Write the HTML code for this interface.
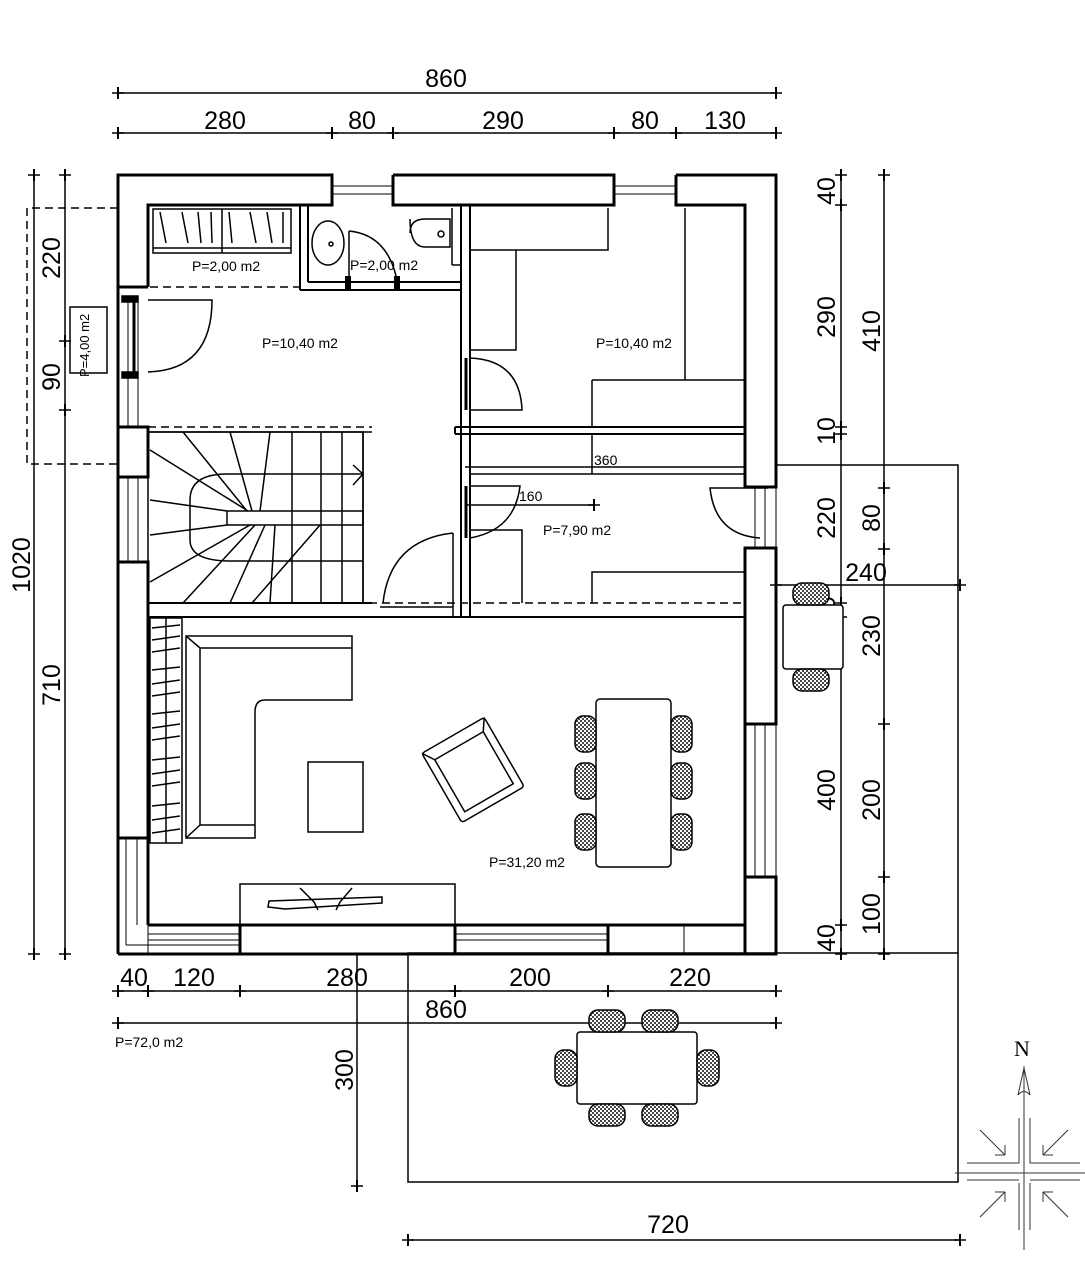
<!DOCTYPE html>
<html><head><meta charset="utf-8"><style>
html,body{margin:0;padding:0;background:#fff}
svg{display:block}
text{font-family:"Liberation Sans",sans-serif;fill:#000}
.d{font-size:25px}
.s{font-size:14px}
</style></head><body>
<svg width="1085" height="1288" viewBox="0 0 1085 1288" xmlns="http://www.w3.org/2000/svg" fill="none" stroke="#000">
<defs>
<pattern id="ck" width="4" height="4" patternUnits="userSpaceOnUse"><rect width="4" height="4" fill="#fff" stroke="none"/><rect width="2" height="2" fill="#444" stroke="none"/><rect x="2" y="2" width="2" height="2" fill="#444" stroke="none"/></pattern>
<g id="tk"><line x1="-6" y1="0" x2="6" y2="0" stroke-width="1.5"/><line x1="0" y1="-6" x2="0" y2="6" stroke-width="2"/></g>
</defs>

<g stroke-width="1.5">
<line x1="118" y1="93" x2="776" y2="93"/>
<line x1="118" y1="133" x2="776" y2="133"/>
<line x1="34" y1="173" x2="34" y2="954"/>
<line x1="65" y1="173" x2="65" y2="954"/>
<line x1="841" y1="175" x2="841" y2="954"/>
<line x1="884" y1="175" x2="884" y2="954"/>
<line x1="118" y1="991" x2="776" y2="991"/>
<line x1="118" y1="1023" x2="776" y2="1023"/>
<line x1="357" y1="954" x2="357" y2="1186"/>
<line x1="408" y1="1240" x2="960" y2="1240"/>
<line x1="776" y1="585" x2="960" y2="585"/>
</g>
<g>
<use href="#tk" x="118" y="93"/><use href="#tk" x="776" y="93"/>
<use href="#tk" x="118" y="133"/><use href="#tk" x="332" y="133"/><use href="#tk" x="393" y="133"/><use href="#tk" x="614" y="133"/><use href="#tk" x="676" y="133"/><use href="#tk" x="776" y="133"/>
<use href="#tk" x="34" y="175"/><use href="#tk" x="34" y="954"/>
<use href="#tk" x="65" y="175"/><use href="#tk" x="65" y="341"/><use href="#tk" x="65" y="410"/><use href="#tk" x="65" y="954"/>
<use href="#tk" x="841" y="175"/><use href="#tk" x="841" y="205"/><use href="#tk" x="841" y="427"/><use href="#tk" x="841" y="434"/><use href="#tk" x="841" y="603"/><use href="#tk" x="841" y="617"/><use href="#tk" x="841" y="925"/><use href="#tk" x="841" y="954"/>
<use href="#tk" x="884" y="175"/><use href="#tk" x="884" y="488"/><use href="#tk" x="884" y="549"/><use href="#tk" x="884" y="724"/><use href="#tk" x="884" y="877"/><use href="#tk" x="884" y="954"/>
<use href="#tk" x="118" y="991"/><use href="#tk" x="148" y="991"/><use href="#tk" x="240" y="991"/><use href="#tk" x="455" y="991"/><use href="#tk" x="608" y="991"/><use href="#tk" x="776" y="991"/>
<use href="#tk" x="118" y="1023"/><use href="#tk" x="776" y="1023"/>
<use href="#tk" x="357" y="1186"/><use href="#tk" x="408" y="1240"/><use href="#tk" x="960" y="1240"/>
<use href="#tk" x="776" y="585"/><use href="#tk" x="960" y="585"/>
</g>
<g class="d" stroke="none">
<text x="446" y="87" text-anchor="middle">860</text>
<text x="225" y="129" text-anchor="middle">280</text>
<text x="362" y="129" text-anchor="middle">80</text>
<text x="503" y="129" text-anchor="middle">290</text>
<text x="645" y="129" text-anchor="middle">80</text>
<text x="725" y="129" text-anchor="middle">130</text>
<text x="134" y="986" text-anchor="middle">40</text>
<text x="194" y="986" text-anchor="middle">120</text>
<text x="347" y="986" text-anchor="middle">280</text>
<text x="530" y="986" text-anchor="middle">200</text>
<text x="690" y="986" text-anchor="middle">220</text>
<text x="446" y="1018" text-anchor="middle">860</text>
<text x="668" y="1233" text-anchor="middle">720</text>
<text x="866" y="581" text-anchor="middle">240</text>
<text transform="translate(30,565) rotate(-90)" text-anchor="middle">1020</text>
<text transform="translate(60,258) rotate(-90)" text-anchor="middle">220</text>
<text transform="translate(60,377) rotate(-90)" text-anchor="middle">90</text>
<text transform="translate(60,685) rotate(-90)" text-anchor="middle">710</text>
<text transform="translate(835,191) rotate(-90)" text-anchor="middle">40</text>
<text transform="translate(835,317) rotate(-90)" text-anchor="middle">290</text>
<text transform="translate(835,431) rotate(-90)" text-anchor="middle">10</text>
<text transform="translate(835,518) rotate(-90)" text-anchor="middle">220</text>
<text transform="translate(835,610) rotate(-90)" text-anchor="middle">20</text>
<text transform="translate(835,790) rotate(-90)" text-anchor="middle">400</text>
<text transform="translate(835,938) rotate(-90)" text-anchor="middle">40</text>
<text transform="translate(880,331) rotate(-90)" text-anchor="middle">410</text>
<text transform="translate(880,518) rotate(-90)" text-anchor="middle">80</text>
<text transform="translate(880,636) rotate(-90)" text-anchor="middle">230</text>
<text transform="translate(880,800) rotate(-90)" text-anchor="middle">200</text>
<text transform="translate(880,914) rotate(-90)" text-anchor="middle">100</text>
<text transform="translate(353,1070) rotate(-90)" text-anchor="middle">300</text>
</g>

<g stroke-width="1.5">
<rect x="408" y="953" width="550" height="229"/>
<polyline points="776,465 958,465 958,953"/>
<polyline points="118,208 27,208 27,464 118,464" stroke-dasharray="8,5"/>
<rect x="70" y="307" width="37" height="66"/>
</g>
<text class="s" stroke="none" transform="translate(89,377) rotate(-90)" style="font-size:13px">P=4,00 m2</text>
<text class="s" stroke="none" x="115" y="1047" style="font-size:14px">P=72,0 m2</text>

<g stroke-width="3">
<polyline points="118,297 118,175 332,175 332,205 148,205 148,287"/>
<line x1="118" y1="287" x2="148" y2="287"/>
<polyline points="393,175 614,175 614,205 393,205 393,175"/>
<polyline points="676,175 776,175 776,487 745,487 745,205 676,205 676,175"/>
<rect x="118" y="427" width="30" height="50"/>
<rect x="118" y="562" width="30" height="276"/>
<rect x="745" y="548" width="31" height="176"/>
<rect x="745" y="877" width="31" height="77"/>
<rect x="240" y="925" width="215" height="29"/>
<rect x="608" y="925" width="137" height="29"/>
<line x1="148" y1="617" x2="148" y2="925"/>
<line x1="148" y1="925" x2="745" y2="925"/>
<line x1="745" y1="724" x2="745" y2="925"/>
<line x1="118" y1="954" x2="776" y2="954"/>
<line x1="118" y1="838" x2="118" y2="954"/>
<line x1="118" y1="477" x2="118" y2="562"/>
<line x1="118" y1="297" x2="118" y2="427"/>
</g>
<g stroke-width="1">
<line x1="684" y1="925" x2="684" y2="954"/>
<line x1="332" y1="186" x2="393" y2="186"/><line x1="332" y1="194" x2="393" y2="194"/>
<line x1="614" y1="186" x2="676" y2="186"/><line x1="614" y1="194" x2="676" y2="194"/>
<line x1="128" y1="297" x2="128" y2="427"/><line x1="138" y1="297" x2="138" y2="427"/>
<line x1="128" y1="477" x2="128" y2="562"/><line x1="138" y1="477" x2="138" y2="562"/>
<line x1="126" y1="838" x2="126" y2="945"/><line x1="126" y1="945" x2="240" y2="945"/>
<line x1="137" y1="838" x2="137" y2="925"/><line x1="148" y1="925" x2="148" y2="954"/>
<line x1="148" y1="934" x2="240" y2="934"/><line x1="148" y1="940" x2="240" y2="940"/>
<line x1="455" y1="934" x2="608" y2="934"/><line x1="455" y1="940" x2="608" y2="940"/>
<line x1="755" y1="724" x2="755" y2="877"/><line x1="765" y1="724" x2="765" y2="877"/>
<line x1="776" y1="487" x2="776" y2="954"/>
<line x1="755" y1="487" x2="755" y2="548"/><line x1="765" y1="487" x2="765" y2="548"/>
</g>

<g stroke-width="2">
<line x1="461" y1="205" x2="461" y2="617"/>
<line x1="470" y1="205" x2="470" y2="617"/>
<line x1="148" y1="603" x2="745" y2="603" stroke-width="1.5" stroke-dasharray="8,5"/>
<line x1="148" y1="617" x2="745" y2="617"/>
<line x1="148" y1="603" x2="372" y2="603"/>
<line x1="455" y1="427" x2="745" y2="427"/>
<line x1="455" y1="434" x2="745" y2="434"/>
<line x1="455" y1="427" x2="455" y2="434"/>
<line x1="300" y1="290" x2="461" y2="290"/>
<line x1="308" y1="205" x2="308" y2="282"/>
<line x1="300" y1="205" x2="300" y2="290"/>
<line x1="308" y1="282" x2="461" y2="282"/>
</g>
<g stroke-width="1.5">
<line x1="150" y1="287" x2="300" y2="287" stroke-dasharray="8,5"/>
<line x1="148" y1="427" x2="372" y2="427" stroke-dasharray="8,5"/>
<line x1="148" y1="432" x2="372" y2="432"/>
<rect x="153" y="209" width="138" height="44"/>
<line x1="222" y1="209" x2="222" y2="253"/>
<line x1="153" y1="248" x2="291" y2="248"/>
<path d="M160,212 L166,243 M182,212 L188,243 M198,212 L201,243 M211,212 L212,243 M229,212 L232,243 M250,212 L256,243 M267,212 L272,243 M283,212 L283,243"/>
<ellipse cx="328" cy="243" rx="16" ry="22"/>
<circle cx="331" cy="244" r="2"/>
<path d="M349,231 Q390,235 398,286"/><line x1="349" y1="231" x2="349" y2="286"/>
<path d="M410,219 Q410,247 425,247 L450,247 L450,219 Q450,219 425,219 Q410,219 410,233" />
<circle cx="441" cy="234" r="3"/>
<line x1="452" y1="208" x2="452" y2="265"/><line x1="452" y1="265" x2="461" y2="265"/>
<path d="M148,300 L212,300 Q212,370 148,372"/>
<rect x="122" y="296" width="16" height="6" fill="#000"/><rect x="122" y="372" width="16" height="6" fill="#000"/>
<line x1="134" y1="302" x2="134" y2="372" stroke-width="3"/>
<rect x="148" y="432" width="215" height="171"/>
<rect x="227" y="511" width="136" height="14"/>
<path d="M227,474 L363,474 M227,561 L363,561 M292,432 L292,603 M321,432 L321,603 M342,432 L342,603 M363,432 L363,603"/>
<path d="M227,474 Q190,474 190,500 L190,540 Q190,560 227,561"/>
<path d="M183,432 L247,511 M230,432 L252,511 M270,432 L260,511 M150,450 L248,511 M150,500 L227,511 M150,535 L227,525 M150,582 L250,525 M183,603 L255,525 M230,603 L265,525 M270,603 L275,525 M320,525 L252,603"/>
<path d="M353,465 L363,474 L353,485"/>
<path d="M453,533 Q390,540 383,603"/><line x1="453" y1="533" x2="453" y2="617"/>
<line x1="380" y1="607" x2="453" y2="607"/>
<path d="M470,208 L470,250 L608,250 L608,208 M516,250 L516,350 L470,350 M685,208 L685,380 M592,380 L745,380 M592,380 L592,427"/>
<path d="M470,358 Q520,360 522,410 L470,410"/>
<line x1="466" y1="358" x2="466" y2="410" stroke-width="3"/>
<line x1="465" y1="467" x2="745" y2="467"/>
<line x1="470" y1="474" x2="745" y2="474"/>
<line x1="592" y1="434" x2="592" y2="474"/>
<line x1="465" y1="505" x2="594" y2="505"/>
<use href="#tk" x="594" y="505"/>
<path d="M470,486 L520,486 Q515,530 470,538"/>
<line x1="466" y1="486" x2="466" y2="538" stroke-width="3"/>
<path d="M470,530 L522,530 L522,603 M592,603 L592,572 L745,572"/>
<path d="M768,488 L710,488 Q715,535 760,538"/>
<rect x="783" y="605" width="60" height="64" rx="3" fill="#fff"/>
<rect x="793" y="583" width="36" height="22" rx="9" fill="url(#ck)"/>
<rect x="793" y="669" width="36" height="22" rx="9" fill="url(#ck)"/>
<path d="M186,636 L352,636 L352,700 L265,700 Q255,700 255,712 L255,838 L186,838 Z"/>
<path d="M200,648 L352,648 M200,648 L200,825 L255,825 M186,636 L200,648 M186,838 L200,825"/>
<rect x="308" y="762" width="55" height="70"/>
<g transform="translate(473,770) rotate(-30)"><rect x="-36" y="-40" width="72" height="80" rx="3"/><rect x="-28" y="-28" width="56" height="60"/><path d="M-36,-40 L-28,-28 M36,-40 L28,-28"/></g>
<rect x="150" y="618" width="32" height="225"/>
<line x1="166" y1="618" x2="166" y2="843"/>
<path d="M152,628 L180,625 M152,640 L180,636 M152,652 L180,648 M152,670 L180,667 M152,684 L180,680 M152,696 L180,692 M152,714 L180,711 M152,728 L180,724 M152,740 L180,736 M152,760 L180,757 M152,774 L180,770 M152,786 L180,782 M152,806 L180,803 M152,820 L180,816 M152,833 L180,829"/>
<rect x="596" y="699" width="75" height="168" rx="4" fill="#fff"/>
<g fill="url(#ck)">
<rect x="575" y="716" width="21" height="36" rx="8"/><rect x="575" y="763" width="21" height="36" rx="8"/><rect x="575" y="814" width="21" height="36" rx="8"/>
<rect x="671" y="716" width="21" height="36" rx="8"/><rect x="671" y="763" width="21" height="36" rx="8"/><rect x="671" y="814" width="21" height="36" rx="8"/>
</g>
<rect x="240" y="884" width="215" height="41"/>
<path d="M269,901 L382,897 L382,903 L285,909 L268,907 Z M300,888 L314,902 L318,910 M352,888 L340,902 L336,910"/>
<rect x="577" y="1032" width="120" height="72" rx="3" fill="#fff"/>
<g fill="url(#ck)">
<rect x="589" y="1010" width="36" height="22" rx="9"/><rect x="642" y="1010" width="36" height="22" rx="9"/>
<rect x="589" y="1104" width="36" height="22" rx="9"/><rect x="642" y="1104" width="36" height="22" rx="9"/>
<rect x="555" y="1050" width="22" height="36" rx="9"/><rect x="697" y="1050" width="22" height="36" rx="9"/>
</g>
</g>
<rect x="345" y="276" width="6" height="14" fill="#000" stroke="none"/>
<rect x="394" y="276" width="6" height="14" fill="#000" stroke="none"/>

<g class="s" stroke="none">
<text x="192" y="271">P=2,00 m2</text>
<text x="350" y="270">P=2,00 m2</text>
<text x="262" y="348">P=10,40 m2</text>
<text x="596" y="348">P=10,40 m2</text>
<text x="594" y="465">360</text>
<text x="519" y="501">160</text>
<text x="543" y="535">P=7,90 m2</text>
<text x="489" y="867">P=31,20 m2</text>
</g>

<g stroke-width="1" stroke="#333">
<line x1="1024" y1="1066" x2="1024" y2="1250"/>
<line x1="955" y1="1173" x2="1085" y2="1173"/>
<path d="M1018,1095 L1024,1068 L1030,1095 Q1024,1088 1018,1095"/>
<path d="M1019,1118 L1019,1163 L967,1163 M1030,1118 L1030,1163 L1080,1163 M1019,1183 L1019,1230 M1019,1180 L967,1180 M1030,1183 L1030,1230 M1030,1180 L1080,1180"/>
<path d="M980,1130 L1005,1155 M1005,1155 L995,1155 M1005,1155 L1005,1145 M1068,1130 L1043,1155 M1043,1155 L1053,1155 M1043,1155 L1043,1145 M980,1217 L1005,1192 M1005,1192 L995,1192 M1005,1192 L1005,1202 M1068,1217 L1043,1192 M1043,1192 L1053,1192 M1043,1192 L1043,1202"/>
</g>
<text x="1014" y="1056" style="font-size:22px;font-family:'Liberation Serif',serif" stroke="none" fill="#555">N</text>
</svg>
</body></html>
